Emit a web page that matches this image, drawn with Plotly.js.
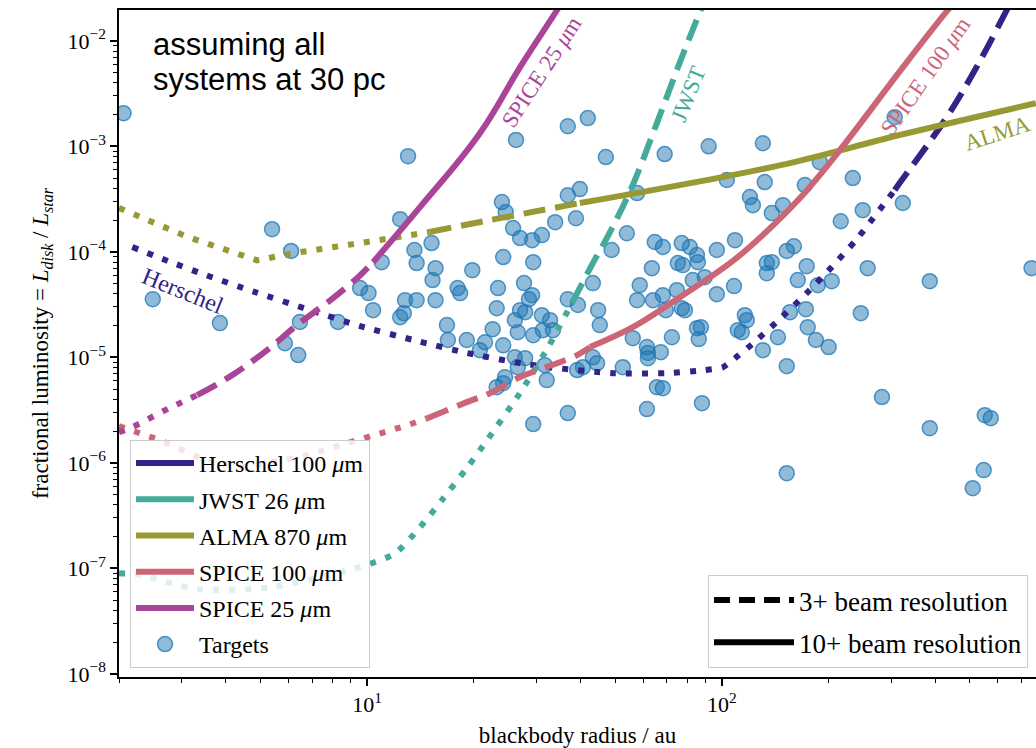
<!DOCTYPE html>
<html>
<head>
<meta charset="utf-8">
<script src="https://cdn.plot.ly/plotly-3.0.1.min.js"></script>
<style>html,body{margin:0;padding:0;background:#fff;}#chart{width:1036px;height:748px;}</style>
</head>
<body>
<div id="chart"></div>
<script>
// ---------- data ----------
const herschelDotX = [2.18, 2.75, 3.45, 4.84, 6.78, 9.56, 13.5, 19.1, 27.0, 34.3, 49.3, 70.0, 89.5, 100.7, 110.9, 121.6, 145.5, 173.4, 204, 240, 307];
const herschelDotY = [1.11e-4, 8.17e-5, 6.15e-5, 4.15e-5, 2.86e-5, 1.98e-5, 1.46e-5, 1.10e-5, 8.81e-6, 7.91e-6, 7.08e-6, 7.08e-6, 7.57e-6, 8.07e-6, 1.03e-5, 1.33e-5, 2.30e-5, 4.06e-5, 7.16e-5, 1.32e-4, 3.85e-4];
const herschelDashX = [307, 317, 430.5, 522.4, 635, 668];
const herschelDashY = [3.85e-4, 4.48e-4, 1.89e-3, 5.64e-3, 1.95e-2, 2.71e-2];

const jwstDotX = [2.0, 2.32, 3.32, 5.33, 9.56, 12.0, 14.1, 16.4, 19.1, 21.9, 27.0, 32.4, 37.8];
const jwstDotY = [9.0e-8, 8.6e-8, 6.35e-8, 6.6e-8, 1.03e-7, 1.39e-7, 2.45e-7, 4.6e-7, 8.9e-7, 1.68e-6, 4.6e-6, 1.25e-5, 3.27e-5];
const jwstDashX = [37.8, 43.3, 48.4, 56.1, 65.6, 76.2, 88.3];
const jwstDashY = [3.27e-5, 7.8e-5, 1.54e-4, 4.3e-4, 1.66e-3, 6.3e-3, 2.18e-2];

const almaDotX = [2.0, 3.13, 4.90, 6.19, 10.0, 15.0];
const almaDotY = [2.6e-4, 1.38e-4, 8.3e-5, 9.7e-5, 1.24e-4, 1.54e-4];
const almaDashX = [15.0, 22.2, 39.8];
const almaDashY = [1.54e-4, 2.0e-4, 2.9e-4];
const almaSolidX = [39.8, 145.5, 317, 767];
const almaSolidY = [2.9e-4, 6.6e-4, 1.28e-3, 2.56e-3];

const spice100DotX = [2.0, 2.32, 2.61, 3.39, 4.48, 6.47, 8.12, 10.3, 13.0, 14.8];
const spice100DotY = [2.23e-6, 1.91e-6, 1.64e-6, 1.11e-6, 9.1e-7, 1.13e-6, 1.41e-6, 1.79e-6, 2.27e-6, 2.65e-6];
const spice100DashX = [14.8, 19.1, 22.2, 27.0, 32.1, 39.1, 42.5];
const spice100DashY = [2.65e-6, 3.76e-6, 4.57e-6, 6.5e-6, 8.07e-6, 1.05e-5, 1.25e-5];
const spice100SolidX = [42.5, 56.1, 76.2, 105.4, 130.4, 166, 215, 323.6, 433, 480];
const spice100SolidY = [1.25e-5, 1.93e-5, 3.72e-5, 7.8e-5, 1.44e-4, 3.23e-4, 9.2e-4, 5.6e-3, 1.95e-2, 2.9e-2];

const spice25DotX = [2.0, 2.18, 2.70, 3.01, 3.32];
const spice25DotY = [1.95e-6, 2.18e-6, 3.16e-6, 3.76e-6, 4.38e-6];
const spice25DashX = [3.32, 4.17, 5.23, 6.35, 8.02, 9.44, 10.4];
const spice25DashY = [4.38e-6, 6.78e-6, 1.17e-5, 2.02e-5, 3.64e-5, 5.75e-5, 7.98e-5];
const spice25SolidX = [10.4, 14.1, 20.8, 27.0, 34.3, 36.1];
const spice25SolidY = [7.98e-5, 2.65e-4, 1.33e-3, 5.64e-3, 1.95e-2, 2.6e-2];

const targetsX = [2.06, 5.40, 6.11, 12.4, 2.49, 3.85, 11.0, 6.47, 5.87, 6.40, 8.28, 9.56, 10.1, 10.4, 12.4, 12.8, 12.7,
  13.05, 36.8, 41.9, 26.3, 47.1, 69.0, 91.8, 130.5, 307, 15.2, 13.6, 13.8, 24.0, 24.6, 25.8, 27.0, 29.2, 31.1, 33.9,
  36.8, 39.8, 38.8, 57.7, 54.0, 48.9, 64.7, 68.2, 77.1, 81.3, 96.8, 108.9, 103.3, 120, 122.3, 132.1, 138.3, 148.6,
  171.4, 188.9, 233.9, 249.5, 323.6, 216.3, 159.6, 152.4, 133.9, 138.3, 133.9, 173.4, 163.7, 186.4, 204.0, 257.6,
  385.5, 746, 108.2, 96.8, 116.1, 117.6, 110.9, 113.8, 87.3, 86.1, 155.6, 172.5, 174.6, 184.1, 200, 143.9, 130.5,
  246.4, 152.4, 87.9, 282.6, 385.5, 550.8, 572.6, 152.4, 547, 509.4, 15.6, 15.3, 19.8, 24.2, 29.4, 18.0, 18.3, 13.8,
  15.6, 23.4, 27.7, 29.2, 28.6, 23.2, 27.0, 27.9, 31.1, 26.1, 32.8, 33.4, 29.4, 26.6, 31.3, 36.8, 39.3, 43.3, 44.8,
  45.3, 16.8, 16.9, 19.1, 21.5, 22.6, 20.8, 24.2, 26.1, 26.6, 27.9, 31.7, 32.1, 24.5, 24.2, 23.2, 36.8, 29.4, 43.3,
  44.5, 40.6, 39.1, 52.6, 61.5, 65.6, 68.2, 61.9, 61.9, 67.3, 61.5, 56.1, 58.7, 57.7, 64.0, 68.2, 69.5, 74.7, 77.1,
  78.7, 72.3, 85.1, 63.5, 75.2, 77.6, 85.1, 85.6, 82.8, 89.5];
const targetsY = [2.06e-3, 1.64e-4, 1.02e-4, 2.04e-4, 3.56e-5, 2.11e-5, 7.98e-5, 2.16e-5, 1.36e-5, 1.05e-5, 2.16e-5,
  4.53e-5, 4.06e-5, 2.80e-5, 2.40e-5, 3.48e-5, 2.62e-5, 8.07e-4, 1.55e-3, 1.85e-3, 1.15e-3, 7.91e-4, 8.44e-4, 1.00e-3,
  1.07e-3, 1.89e-3, 1.21e-4, 1.04e-4, 7.82e-5, 2.96e-4, 2.38e-4, 1.68e-4, 1.35e-4, 1.29e-4, 1.44e-4, 1.91e-4, 3.44e-4,
  3.93e-4, 2.08e-4, 3.60e-4, 1.50e-4, 1.04e-4, 1.24e-4, 1.11e-4, 1.21e-4, 1.11e-4, 1.04e-4, 1.29e-4, 4.79e-4, 3.30e-4,
  2.77e-4, 4.58e-4, 2.33e-4, 2.77e-4, 4.29e-4, 7.08e-4, 5.00e-4, 2.48e-4, 2.90e-4, 1.95e-4, 1.13e-4, 1.02e-4, 7.82e-5,
  7.98e-5, 6.28e-5, 7.31e-5, 5.40e-5, 4.83e-5, 5.27e-5, 7.00e-5, 5.27e-5, 7.00e-5, 4.73e-5, 3.97e-5, 2.51e-5, 2.25e-5,
  1.81e-5, 1.73e-5, 1.93e-5, 1.49e-5, 2.68e-5, 2.86e-5, 1.93e-5, 1.46e-5, 1.25e-5, 1.55e-5, 1.17e-5, 2.62e-5, 8.24e-6,
  3.68e-6, 4.20e-6, 2.13e-6, 2.83e-6, 2.65e-6, 7.98e-7, 8.53e-7, 5.75e-7, 7.00e-5, 5.40e-5, 6.70e-5, 8.91e-5, 7.98e-5,
  4.53e-5, 4.06e-5, 3.48e-5, 3.48e-5, 4.53e-5, 5.05e-5, 3.88e-5, 3.56e-5, 2.92e-5, 2.80e-5, 2.68e-5, 2.51e-5, 2.25e-5,
  2.25e-5, 1.81e-5, 1.62e-5, 1.73e-5, 1.81e-5, 3.56e-5, 3.13e-5, 5.05e-5, 2.80e-5, 2.02e-5, 2.02e-5, 1.46e-5, 1.46e-5,
  1.39e-5, 1.85e-5, 1.17e-5, 1.30e-5, 1.00e-5, 8.07e-6, 9.82e-6, 8.43e-6, 6.08e-6, 6.49e-6, 5.69e-6, 5.21e-6, 2.96e-6,
  2.33e-6, 1.00e-5, 8.81e-6, 8.07e-6, 7.57e-6, 8.07e-6, 3.23e-6, 5.21e-6, 5.10e-6, 1.10e-5, 9.82e-6, 1.12e-5, 1.25e-5,
  1.52e-5, 4.83e-5, 3.48e-5, 3.48e-5, 3.88e-5, 2.80e-5, 4.33e-5, 2.92e-5, 2.80e-5, 1.55e-5, 1.89e-5, 7.00e-5, 7.82e-5,
  7.48e-5, 9.31e-5, 7.98e-5, 5.40e-5, 5.75e-5];

const instrumentNames = ['Herschel 100 <i>μ</i>m', 'JWST 26 <i>μ</i>m', 'ALMA 870 <i>μ</i>m', 'SPICE 100 <i>μ</i>m', 'SPICE 25 <i>μ</i>m'];
const resolutionNames = ['3+ beam resolution', '10+ beam resolution'];
const xTickVals = [10, 100];
const xTickText = ['10<sup>1</sup>', '10<sup>2</sup>'];
const yTickVals = [1e-8, 1e-7, 1e-6, 1e-5, 1e-4, 1e-3, 1e-2];
const yTickText = ['10<sup>−8</sup>', '10<sup>−7</sup>', '10<sup>−6</sup>', '10<sup>−5</sup>', '10<sup>−4</sup>', '10<sup>−3</sup>', '10<sup>−2</sup>'];

// ---------- styles ----------
const COLORS = {herschel: '#332288', jwst: '#44AA99', alma: '#999933', spice100: '#CC6677', spice25: '#AA4499'};
const LW = 6;
const DOT = '6px,10px';
const DASH = '22px,10px';
const SERIF = 'Liberation Serif, Times New Roman, serif';

function seg(x, y, color, dash, smooth) {
  const line = {color: color, width: LW, dash: dash};
  if (smooth) { line.shape = 'spline'; line.smoothing = smooth; }
  return {type: 'scatter', mode: 'lines', x: x, y: y, showlegend: false, hoverinfo: 'skip', line: line};
}
function legendLine(name, color, dash, legendId, rank) {
  return {type: 'scatter', mode: 'lines', x: [null], y: [null], name: name, legend: legendId,
          legendgroup: 'g' + legendId + rank, legendrank: rank, showlegend: true,
          line: {color: color, width: LW, dash: dash}};
}

const traces = [];
traces.push({type: 'scatter', mode: 'markers', x: targetsX, y: targetsY, name: 'Targets',
  legend: 'legend', legendgroup: 'gt', legendrank: 6, hoverinfo: 'x+y',
  marker: {size: 15, color: 'rgba(31,119,180,0.5)', line: {color: 'rgba(31,119,180,0.75)', width: 1.5}}});

traces.push(seg(herschelDotX, herschelDotY, COLORS.herschel, DOT, 0.6));
traces.push(seg(herschelDashX, herschelDashY, COLORS.herschel, DASH, 1));
traces.push(seg(jwstDotX, jwstDotY, COLORS.jwst, DOT, 0.7));
traces.push(seg(jwstDashX, jwstDashY, COLORS.jwst, DASH, 1));
traces.push(seg(almaDotX, almaDotY, COLORS.alma, DOT, 0));
traces.push(seg(almaDashX, almaDashY, COLORS.alma, DASH, 1));
traces.push(seg(almaSolidX, almaSolidY, COLORS.alma, 'solid', 1));
traces.push(seg(spice100DotX, spice100DotY, COLORS.spice100, DOT, 0));
traces.push(seg(spice100DashX, spice100DashY, COLORS.spice100, DASH, 1));
traces.push(seg(spice100SolidX, spice100SolidY, COLORS.spice100, 'solid', 1));
traces.push(seg(spice25DotX, spice25DotY, COLORS.spice25, DOT, 1));
traces.push(seg(spice25DashX, spice25DashY, COLORS.spice25, DASH, 1));
traces.push(seg(spice25SolidX, spice25SolidY, COLORS.spice25, 'solid', 1.2));

const legColors = [COLORS.herschel, COLORS.jwst, COLORS.alma, COLORS.spice100, COLORS.spice25];
instrumentNames.forEach((n, i) => traces.push(legendLine(n, legColors[i], 'solid', 'legend', i + 1)));
traces.push(legendLine(resolutionNames[0], '#000000', '16px,9px', 'legend2', 1));
traces.push(legendLine(resolutionNames[1], '#000000', 'solid', 'legend2', 2));

const W = 1036, H = 748, ML = 119, MR = 0, MT = 10, MB = 71;
const PW = W - ML - MR, PH = H - MT - MB;
const px = v => (v - ML) / PW;          // pixel -> paper x
const py = v => (H - MB - v) / PH;      // pixel -> paper y

function label(text, x, y, angle, color, size) {
  return {text: text, xref: 'paper', yref: 'paper', x: px(x), y: py(y), showarrow: false,
          textangle: angle, font: {family: SERIF, size: size, color: color}, xanchor: 'center', yanchor: 'middle'};
}

const layout = {
  width: W, height: H,
  margin: {l: ML, r: MR, t: MT, b: MB, pad: 0},
  paper_bgcolor: '#ffffff', plot_bgcolor: '#ffffff',
  font: {family: SERIF, color: '#000000'},
  xaxis: {
    type: 'log', range: [Math.log10(2.0), Math.log10(768)],
    showgrid: false, zeroline: false, showline: true, linecolor: '#000', linewidth: 1.5, mirror: true,
    ticks: 'outside', ticklen: 7, tickwidth: 1.5, tickcolor: '#000',
    tickmode: 'array', tickvals: xTickVals, ticktext: xTickText,
    tickfont: {family: SERIF, size: 22, color: '#000'},
    minor: {ticks: 'outside', ticklen: 4, tickwidth: 1, tickcolor: '#000', showgrid: false, dtick: 'D1'},
    title: {text: 'blackbody radius / au', font: {family: SERIF, size: 23, color: '#000'}, standoff: 12}
  },
  yaxis: {
    type: 'log', range: [-8.03, -1.708],
    showgrid: false, zeroline: false, showline: true, linecolor: '#000', linewidth: 1.5, mirror: false,
    ticks: 'outside', ticklen: 7, tickwidth: 1.5, tickcolor: '#000',
    tickmode: 'array', tickvals: yTickVals, ticktext: yTickText,
    tickfont: {family: SERIF, size: 22, color: '#000'},
    minor: {ticks: 'outside', ticklen: 4, tickwidth: 1, tickcolor: '#000', showgrid: false, dtick: 'D1'},
    title: {text: 'fractional luminosity = <i>L</i><sub><i>disk</i></sub> / <i>L</i><sub><i>star</i></sub>',
            font: {family: SERIF, size: 23, color: '#000'}, standoff: 12}
  },
  legend: {
    x: px(130), y: py(440), xanchor: 'left', yanchor: 'top',
    bgcolor: 'rgba(255,255,255,0.82)', bordercolor: '#cccccc', borderwidth: 1,
    font: {family: SERIF, size: 24, color: '#000'}, tracegroupgap: 2, traceorder: 'grouped',
    itemwidth: 58
  },
  legend2: {
    x: px(1028), y: py(668), xanchor: 'right', yanchor: 'bottom',
    bgcolor: 'rgba(255,255,255,0.82)', bordercolor: '#cccccc', borderwidth: 1,
    font: {family: SERIF, size: 27, color: '#000'}, tracegroupgap: 4, traceorder: 'grouped',
    itemwidth: 80
  },
  annotations: [
    {text: 'assuming all', xref: 'paper', yref: 'paper', x: px(151), y: py(44), xanchor: 'left', yanchor: 'middle',
     showarrow: false, font: {family: 'Liberation Sans, Arial, sans-serif', size: 31, color: '#000'}},
    {text: 'systems at 30 pc', xref: 'paper', yref: 'paper', x: px(151), y: py(80), xanchor: 'left', yanchor: 'middle',
     showarrow: false, font: {family: 'Liberation Sans, Arial, sans-serif', size: 31, color: '#000'}},
    label('Herschel', 183, 291, 22, COLORS.herschel, 24),
    label('SPICE 25 <i>μ</i>m', 541, 72, -57, COLORS.spice25, 23),
    label('JWST', 689, 94, -68, COLORS.jwst, 23),
    label('SPICE 100 <i>μ</i>m', 925, 76, -55, COLORS.spice100, 23),
    label('ALMA', 997, 133, -18, COLORS.alma, 23)
  ]
};

Plotly.newPlot('chart', traces, layout, {displayModeBar: false, responsive: false});
</script>
</body>
</html>
